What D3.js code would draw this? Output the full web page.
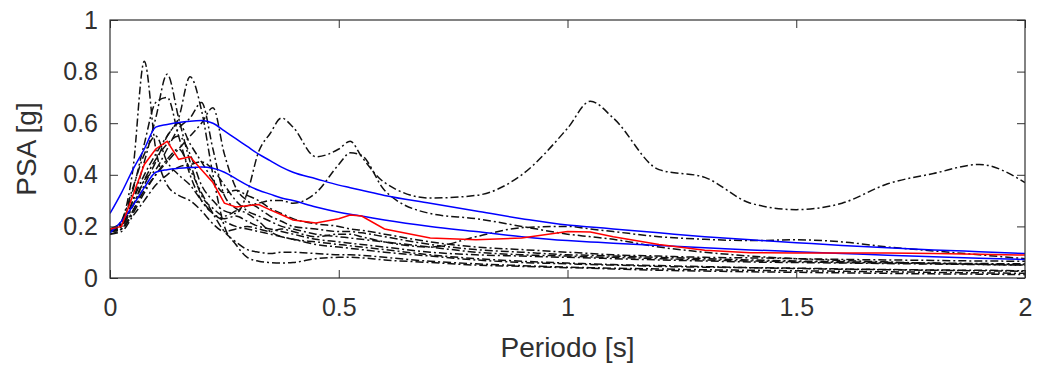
<!DOCTYPE html>
<html>
<head>
<meta charset="utf-8">
<script src="https://cdn.jsdelivr.net/npm/d3@7"></script>
<style>
  body { margin: 0; background: #fff; }
  text { font-family: "Liberation Sans", Arial, sans-serif; }
</style>
</head>
<body>
<script>

// periodi comuni a tutti i record [s]
var periods = [0, 0.025, 0.05, 0.075, 0.1, 0.125, 0.15, 0.175, 0.2, 0.225, 0.25, 0.275, 0.3, 0.325, 0.35, 0.375, 0.4, 0.45, 0.5, 0.525, 0.55, 0.6, 0.7, 0.8, 0.9, 1.0, 1.05, 1.1, 1.2, 1.3, 1.4, 1.5, 1.6, 1.7, 1.8, 1.9, 2.0];

// spettri dei singoli record (PSA in g)
var rec1 = [0.19,0.21,0.28,0.38,0.46,0.52,0.55,0.48,0.36,0.30,0.26,0.25,0.33,0.49,0.56,0.62,0.585,0.47,0.50,0.53,0.47,0.37,0.31,0.32,0.40,0.58,0.685,0.62,0.42,0.39,0.29,0.265,0.29,0.365,0.405,0.44,0.37];
var rec2 = [0.18,0.20,0.30,0.45,0.62,0.79,0.62,0.45,0.32,0.27,0.24,0.26,0.28,0.29,0.30,0.30,0.29,0.33,0.44,0.485,0.475,0.34,0.25,0.23,0.20,0.17,0.16,0.15,0.12,0.10,0.085,0.075,0.068,0.062,0.057,0.053,0.05];
var rec3 = [0.18,0.22,0.42,0.84,0.50,0.36,0.32,0.30,0.26,0.21,0.18,0.19,0.20,0.19,0.18,0.19,0.18,0.16,0.17,0.17,0.16,0.14,0.12,0.16,0.195,0.20,0.19,0.18,0.16,0.15,0.145,0.148,0.14,0.12,0.105,0.09,0.075];
var rec4 = [0.17,0.19,0.26,0.36,0.45,0.55,0.62,0.78,0.65,0.40,0.20,0.13,0.08,0.065,0.06,0.058,0.06,0.075,0.08,0.08,0.078,0.07,0.06,0.05,0.045,0.04,0.038,0.035,0.03,0.027,0.024,0.022,0.02,0.018,0.016,0.015,0.013];
var rec5 = [0.18,0.21,0.34,0.52,0.68,0.70,0.55,0.40,0.30,0.25,0.23,0.24,0.22,0.20,0.19,0.18,0.17,0.15,0.14,0.135,0.13,0.12,0.10,0.09,0.085,0.08,0.078,0.075,0.07,0.066,0.062,0.06,0.058,0.056,0.054,0.052,0.05];
var rec6 = [0.19,0.20,0.28,0.38,0.42,0.50,0.58,0.62,0.68,0.50,0.32,0.27,0.25,0.22,0.18,0.16,0.15,0.13,0.12,0.115,0.11,0.10,0.085,0.07,0.06,0.055,0.052,0.05,0.045,0.042,0.04,0.038,0.035,0.033,0.031,0.03,0.028];
var rec7 = [0.18,0.19,0.25,0.33,0.40,0.45,0.50,0.55,0.60,0.66,0.48,0.35,0.30,0.27,0.24,0.22,0.20,0.19,0.18,0.18,0.175,0.16,0.13,0.11,0.10,0.09,0.088,0.085,0.08,0.075,0.07,0.066,0.063,0.06,0.058,0.056,0.055];
var rec8 = [0.18,0.20,0.30,0.40,0.48,0.55,0.60,0.52,0.45,0.38,0.33,0.34,0.32,0.30,0.27,0.25,0.23,0.21,0.20,0.19,0.185,0.17,0.14,0.12,0.11,0.10,0.095,0.09,0.085,0.08,0.078,0.075,0.072,0.07,0.068,0.066,0.065];
var rec9 = [0.19,0.22,0.35,0.48,0.55,0.45,0.40,0.36,0.30,0.25,0.22,0.20,0.19,0.18,0.17,0.16,0.15,0.14,0.13,0.125,0.12,0.11,0.09,0.075,0.065,0.058,0.055,0.052,0.048,0.044,0.04,0.037,0.034,0.032,0.03,0.028,0.026];
var rec10 = [0.18,0.19,0.26,0.34,0.40,0.46,0.50,0.42,0.33,0.25,0.18,0.14,0.11,0.10,0.095,0.10,0.10,0.095,0.09,0.09,0.088,0.08,0.065,0.055,0.048,0.042,0.04,0.038,0.035,0.032,0.03,0.028,0.026,0.024,0.022,0.02,0.018];
var rec11 = [0.17,0.18,0.24,0.30,0.36,0.40,0.43,0.44,0.45,0.42,0.36,0.30,0.26,0.24,0.22,0.20,0.19,0.17,0.16,0.155,0.15,0.14,0.12,0.10,0.09,0.085,0.082,0.08,0.075,0.07,0.066,0.063,0.06,0.058,0.056,0.054,0.052];

// spettro medio (rosso) e limiti (blu)
var meanPSA = [0.19,0.20,0.32,0.44,0.50,0.53,0.46,0.47,0.42,0.37,0.29,0.275,0.28,0.285,0.264,0.245,0.225,0.213,0.23,0.244,0.24,0.19,0.155,0.148,0.155,0.18,0.178,0.16,0.13,0.108,0.098,0.097,0.097,0.097,0.095,0.092,0.089];
var upperPSA = [0.25,0.33,0.42,0.50,0.585,0.595,0.603,0.608,0.61,0.60,0.57,0.54,0.51,0.48,0.455,0.43,0.41,0.385,0.36,0.35,0.34,0.32,0.29,0.26,0.23,0.205,0.198,0.19,0.175,0.16,0.148,0.137,0.126,0.117,0.109,0.102,0.095];
var lowerPSA = [0.175,0.22,0.28,0.35,0.41,0.42,0.425,0.428,0.43,0.425,0.41,0.385,0.36,0.34,0.325,0.31,0.30,0.275,0.255,0.247,0.24,0.225,0.20,0.18,0.16,0.145,0.14,0.135,0.126,0.117,0.109,0.102,0.095,0.088,0.082,0.077,0.072];

var records = [rec1, rec2, rec3, rec4, rec5, rec6, rec7, rec8, rec9, rec10, rec11];

// etichette degli assi
var xTicks = [0, 0.5, 1, 1.5, 2];
var xTickLabels = ["0", "0.5", "1", "1.5", "2"];
var yTicks = [0, 0.2, 0.4, 0.6, 0.8, 1];
var yTickLabels = ["0", "0.2", "0.4", "0.6", "0.8", "1"];

var W = 1039, H = 367;
// bordi dell'area del grafico
var pLeft = 110, pRight = 1025, pTop = 20, pBottom = 278;

var svg = d3.select("body").append("svg")
   .attr("width", W)
   .attr("height", H);

var x = d3.scaleLinear().domain([0, 2]).range([pLeft, pRight]);
var y = d3.scaleLinear().domain([0, 1]).range([pBottom, pTop]);

svg.append("clipPath").attr("id", "clip")
   .append("rect")
   .attr("x", pLeft).attr("y", pTop)
   .attr("width", pRight - pLeft).attr("height", pBottom - pTop);

// funzione linea
function lineFor(vals, curve) {
   return d3.line()
      .x(function(d, i) { return x(periods[i]); })
      .y(function(d) { return y(d); })
      .curve(curve)(vals);
}

var plot = svg.append("g").attr("clip-path", "url(#clip)");

// record in nero tratto-punto
plot.selectAll("path.rec")
   .data(records)
   .enter()
   .append("path")
   .attr("class", "rec")
   .attr("d", function(d) { return lineFor(d, d3.curveMonotoneX); })
   .style("fill", "none")
   .style("stroke", "#111")
   .style("stroke-width", 1.5)
   .style("stroke-dasharray", "8,3,2,3");

// limiti in blu
plot.selectAll("path.bound")
   .data([upperPSA, lowerPSA])
   .enter()
   .append("path")
   .attr("class", "bound")
   .attr("d", function(d) { return lineFor(d, d3.curveMonotoneX); })
   .style("fill", "none")
   .style("stroke", "#0000ff")
   .style("stroke-width", 1.5);

// media in rosso
plot.append("path")
   .attr("d", lineFor(meanPSA, d3.curveLinear))
   .style("fill", "none")
   .style("stroke", "#ff0000")
   .style("stroke-width", 1.5);

// assi con tacche verso l'interno
var axisColor = "#303030";

svg.append("g")
   .attr("transform", "translate(0," + pBottom + ")")
   .call(d3.axisBottom(x).tickValues(xTicks).tickSize(-8).tickPadding(20)
      .tickFormat(function(d, i) { return xTickLabels[i]; }));

svg.append("g")
   .attr("transform", "translate(" + pLeft + ",0)")
   .call(d3.axisLeft(y).tickValues(yTicks).tickSize(-8).tickPadding(12)
      .tickFormat(function(d, i) { return yTickLabels[i]; }));

svg.append("g")
   .attr("transform", "translate(0," + pTop + ")")
   .call(d3.axisTop(x).tickValues(xTicks).tickSize(-8).tickFormat(""));

svg.append("g")
   .attr("transform", "translate(" + pRight + ",0)")
   .call(d3.axisRight(y).tickValues(yTicks).tickSize(-8).tickFormat(""));

svg.selectAll(".domain").remove();
svg.selectAll(".tick line").style("stroke", axisColor).style("stroke-width", 1);
svg.selectAll(".tick text")
   .style("font-size", "25px")
   .style("fill", axisColor);

// riquadro
svg.append("rect")
   .attr("x", pLeft).attr("y", pTop)
   .attr("width", pRight - pLeft).attr("height", pBottom - pTop)
   .style("fill", "none")
   .style("stroke", axisColor)
   .style("stroke-width", 1.2);

// titoli degli assi
svg.append("text")
   .attr("x", (pLeft + pRight) / 2)
   .attr("y", 357)
   .attr("text-anchor", "middle")
   .style("font-size", "28px")
   .style("fill", axisColor)
   .text("Periodo [s]");

svg.append("text")
   .attr("transform", "translate(36," + ((pTop + pBottom) / 2) + ") rotate(-90)")
   .attr("text-anchor", "middle")
   .style("font-size", "28px")
   .style("fill", axisColor)
   .text("PSA [g]");

</script>
</body>
</html>
